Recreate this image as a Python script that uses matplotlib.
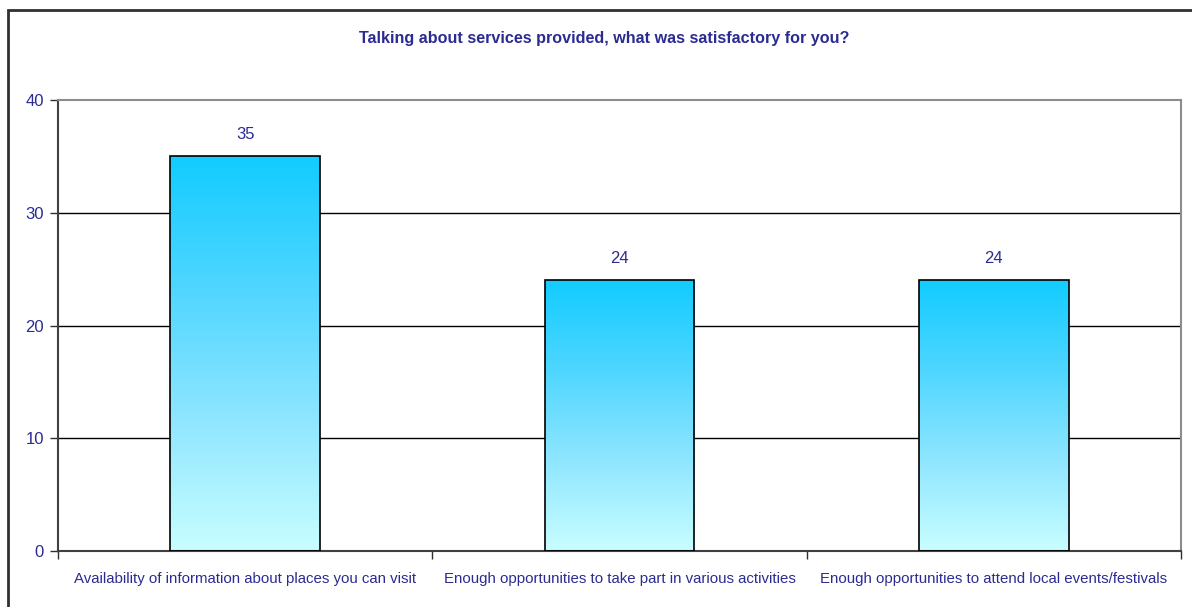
import numpy as np
import matplotlib.pyplot as plt
from matplotlib.patches import Rectangle
from matplotlib.colors import LinearSegmentedColormap

categories = ["Availability of information about places you can visit",
              "Enough opportunities to take part in various activities",
              "Enough opportunities to attend local events/festivals"]
values = [35, 24, 24]
title = "Talking about services provided, what was satisfactory for you?"

txt = "#2B2B92"
plt.rcParams['font.family'] = ['Liberation Sans', 'DejaVu Sans']

fig = plt.figure(figsize=(11.92, 6.07), dpi=100)
ax = fig.add_axes([58/1192, 56/607, 1123/1192, 451/607])

# outer chart border
fig.patches.append(Rectangle((8/1192, -0.05), 1.1, 0.05 + 1 - 10/607,
                             transform=fig.transFigure, fill=False,
                             edgecolor="#303030", linewidth=2))

cmap = LinearSegmentedColormap.from_list("bar", ["#C8FEFF", "#8FE6FF", "#4FD6FF", "#12CCFF"])
grad = np.linspace(0, 1, 256).reshape(-1, 1)

x = np.arange(len(categories))
w = 0.4
bars = ax.bar(x, values, width=w, facecolor="none", edgecolor="black", linewidth=1.2, zorder=3)
for b, v in zip(bars, values):
    x0 = b.get_x()
    im = ax.imshow(grad, cmap=cmap, origin="lower", aspect="auto",
                   extent=[x0, x0 + w, 0, v], zorder=2)
    im.set_clip_path(b)
    ax.text(b.get_x() + w/2, v + 1.3, str(v), ha="center", va="bottom",
            color=txt, fontsize=12)

ax.set_xlim(-0.5, 2.5)
ax.set_ylim(0, 40)
ax.set_yticks([0, 10, 20, 30, 40])
ax.set_xticks([-0.5, 0.5, 1.5, 2.5])
ax.set_xticklabels([])
ax.set_xticks(x, minor=True)
ax.set_xticklabels(categories, minor=True)
ax.tick_params(axis="x", which="minor", length=0, pad=15, labelsize=10.8, labelcolor=txt)
ax.tick_params(axis="x", which="major", length=6, width=1, color="#303030", direction="out")
ax.tick_params(axis="y", length=6, width=1, color="#303030", labelsize=12, labelcolor=txt, pad=4)

for yv in [10, 20, 30]:
    ax.axhline(yv, color="black", linewidth=1, zorder=1)

ax.spines["left"].set_color("#404040")
ax.spines["bottom"].set_color("#404040")
ax.spines["left"].set_linewidth(1.5)
ax.spines["bottom"].set_linewidth(1.5)
ax.spines["top"].set_color("#8C8C8C")
ax.spines["right"].set_color("#8C8C8C")
ax.spines["top"].set_linewidth(1.5)
ax.spines["right"].set_linewidth(1.5)

fig.text(604 / 1192, 1 - 38/607, title, ha="center", va="center",
         color=txt, fontsize=11.6, fontweight="bold")

fig.savefig("out.png", dpi=100)
